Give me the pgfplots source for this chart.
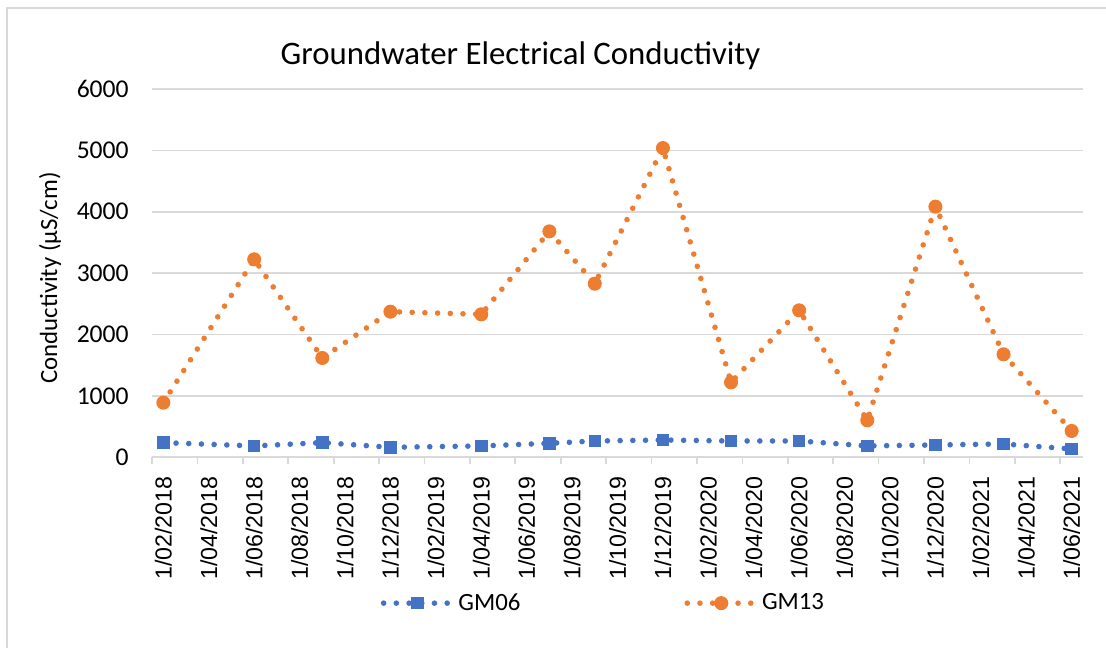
\documentclass[border=0pt]{standalone}
\usepackage{fontspec}
\setmainfont{Carlito}
\newfontfamily\arialfont{Liberation Sans}
\usepackage{pgfplots}
\pgfplotsset{compat=1.18}
\definecolor{gmblue}{HTML}{4472C4}
\definecolor{gmorange}{HTML}{ED7D31}
\definecolor{gridgray}{HTML}{D9D9D9}
\begin{document}
\begin{tikzpicture}
\path[use as bounding box] (0pt,0pt) rectangle (553pt,324pt);
\draw[gridgray, line width=1pt] (3.5pt,0pt) -- (3.5pt,320pt) -- (553pt,320pt);
\node[font=\fontsize{16.4}{19}\selectfont] at (260.25pt,296pt) {Groundwater Electrical Conductivity};
\node[font=\fontsize{12.4}{14}\selectfont, rotate=90] at (25pt,185pt) {Conductivity (µS/cm)};
\begin{axis}[
  at={(76pt,95.35pt)}, anchor=south west,
  width=465.5pt, height=184.15pt, scale only axis,
  xmin=0, xmax=41, ymin=0, ymax=6000,
  clip=false,
  axis x line=bottom, axis y line=left,
  axis line style={-, gridgray, line width=0.85pt},
  y axis line style={draw=none},
  ytick={0,1000,...,6000},
  ytick style={draw=none},
  ymajorgrids,
  major grid style={gridgray, line width=0.85pt},
  /pgf/number format/assume math mode=true,
  /pgf/number format/1000 sep={},
  scaled y ticks=false,
  yticklabel shift=6pt,
  y tick label style={font=\fontsize{12.8}{14}\selectfont},
  xtick={0.5,2.5,...,40.5},
  xtick style={draw=none},
  xticklabels={1/02/2018,1/04/2018,1/06/2018,1/08/2018,1/10/2018,1/12/2018,
    1/02/2019,1/04/2019,1/06/2019,1/08/2019,1/10/2019,1/12/2019,
    1/02/2020,1/04/2020,1/06/2020,1/08/2020,1/10/2020,1/12/2020,
    1/02/2021,1/04/2021,1/06/2021},
  x tick label style={rotate=90, anchor=east, font=\arialfont\fontsize{11.6}{13}\selectfont},
  xticklabel shift=4pt,
  extra x ticks={0,2,...,40},
  extra x tick labels={},
  extra x tick style={tick align=outside, major tick length=3.5pt,
    xtick style={draw=gridgray, line width=0.85pt}},
  legend columns=2,
  legend style={at={(0.486,-0.396)}, anchor=center, draw=none, fill=none,
    font=\fontsize{12.4}{14}\selectfont,
    /tikz/every even column/.append style={column sep=80pt}},
  legend cell align=left,
  legend image code/.code={
    \draw[mark repeat=2,mark phase=2,#1] plot coordinates {(0pt,0pt) (17pt,0pt) (34pt,0pt)};
  },
]
\addplot[gmblue, line width=2.8pt, line cap=round, dash pattern=on 0pt off 6.35pt,
  mark=square*, mark size=2.9pt,
  mark options={solid, fill=gmblue, draw=gmblue, line width=0.5pt}]
  coordinates {(0.5,239) (4.5,185) (7.5,239) (10.5,163) (14.5,185) (17.5,228) (19.5,266)
    (22.5,282) (25.5,266) (28.5,266) (31.5,185) (34.5,201) (37.5,217) (40.5,136)};
\addlegendentry{GM06}
\addplot[gmorange, line width=2.8pt, line cap=round, dash pattern=on 0pt off 6.35pt,
  mark=*, mark size=3.25pt,
  mark options={solid, fill=gmorange, draw=gmorange, line width=0.5pt}]
  coordinates {(0.5,890) (4.5,3225) (7.5,1618) (10.5,2372) (14.5,2329) (17.5,3681) (19.5,2828)
    (22.5,5038) (25.5,1221) (28.5,2394) (31.5,603) (34.5,4083) (37.5,1678) (40.5,429)};
\addlegendentry{GM13}
\end{axis}
\end{tikzpicture}
\end{document}
